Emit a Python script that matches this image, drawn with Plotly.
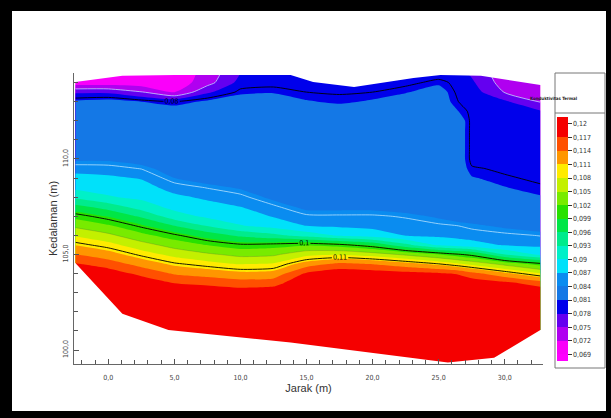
import plotly.graph_objects as go

# ---------------------------------------------------------------------------
# Thermal conductivity section: distance along the line vs. depth
# ---------------------------------------------------------------------------
distance_m = [-2.5, 0.0, 2.5, 5.0, 7.5, 10.0, 12.5, 15.0, 17.5, 20.0, 22.5,
              25.0, 26.5, 27.5, 30.0, 32.7]

depth_m = [114.5, 114.0, 113.5, 113.0, 112.5, 112.0, 111.5, 111.0, 110.5,
           110.0, 109.5, 109.0, 108.5, 108.0, 107.5, 107.0, 106.5, 106.0,
           105.5, 105.0, 104.5, 104.0, 103.5, 103.0, 102.5, 102.0, 101.5,
           101.0, 100.5, 100.0, 99.5, 99.0]

# one row per depth, one column per distance
conductivity = [
    [.0700, .0700, .0700, .0700, .0730, .0780, .0785, .0790, .0795, .0795, .0790, .0790, .0790, .0775, .0730, .0725],
    [.0700, .0700, .0700, .0700, .0738, .0790, .0793, .0795, .0795, .0795, .0795, .0805, .0795, .0785, .0735, .0730],
    [.0775, .0775, .0752, .0718, .0775, .0805, .0808, .0800, .0798, .0800, .0808, .0822, .0795, .0795, .0748, .0737],
    [.0815, .0820, .0810, .0800, .0815, .0825, .0825, .0812, .0806, .0813, .0825, .0825, .0800, .0795, .0785, .0748],
    [.0825, .0825, .0825, .0825, .0825, .0825, .0825, .0825, .0825, .0825, .0825, .0825, .0810, .0795, .0795, .0783],
    [.0825, .0825, .0825, .0825, .0825, .0825, .0825, .0825, .0825, .0825, .0825, .0825, .0825, .0795, .0795, .0795],
    [.0825, .0825, .0825, .0825, .0825, .0825, .0825, .0825, .0825, .0825, .0825, .0825, .0825, .0795, .0795, .0795],
    [.0825, .0825, .0825, .0825, .0825, .0825, .0825, .0825, .0825, .0825, .0825, .0825, .0825, .0795, .0795, .0795],
    [.0825, .0825, .0825, .0825, .0825, .0825, .0825, .0825, .0825, .0825, .0825, .0825, .0825, .0795, .0795, .0795],
    [.0835, .0835, .0825, .0825, .0825, .0825, .0825, .0825, .0825, .0825, .0825, .0825, .0825, .0795, .0795, .0795],
    [.0860, .0858, .0849, .0825, .0825, .0825, .0825, .0825, .0825, .0825, .0825, .0825, .0825, .0802, .0797, .0797],
    [.0879, .0875, .0868, .0840, .0825, .0825, .0825, .0825, .0825, .0825, .0825, .0825, .0825, .0812, .0802, .0797],
    [.0893, .0888, .0881, .0860, .0849, .0837, .0825, .0825, .0825, .0825, .0825, .0825, .0825, .0825, .0811, .0802],
    [.0923, .0903, .0893, .0876, .0865, .0856, .0833, .0825, .0825, .0825, .0825, .0825, .0825, .0825, .0825, .0812],
    [.0970, .0946, .0916, .0890, .0880, .0870, .0854, .0832, .0832, .0832, .0825, .0825, .0825, .0825, .0825, .0825],
    [.1011, .0988, .0955, .0914, .0894, .0885, .0868, .0854, .0853, .0853, .0848, .0836, .0826, .0825, .0825, .0825],
    [.1044, .1024, .0995, .0960, .0929, .0902, .0889, .0870, .0866, .0863, .0859, .0854, .0850, .0845, .0835, .0825],
    [.1076, .1057, .1029, .1005, .0977, .0954, .0939, .0918, .0896, .0885, .0869, .0865, .0862, .0860, .0855, .0849],
    [.1109, .1090, .1062, .1038, .1019, .1004, .1008, .1017, .1007, .0985, .0938, .0895, .0885, .0880, .0868, .0864],
    [.1141, .1123, .1095, .1071, .1055, .1042, .1045, .1071, .1078, .1066, .1045, .1021, .1004, .0992, .0931, .0894],
    [.1173, .1156, .1129, .1104, .1091, .1079, .1083, .1125, .1148, .1139, .1122, .1102, .1085, .1073, .1041, .1008],
    [.1195, .1187, .1162, .1137, .1127, .1117, .1121, .1175, .1190, .1187, .1181, .1175, .1167, .1151, .1118, .1082],
    [.1195, .1195, .1191, .1170, .1163, .1155, .1159, .1195, .1195, .1195, .1195, .1195, .1195, .1191, .1179, .1156],
    [.1195, .1195, .1195, .1195, .1193, .1187, .1190, .1195, .1195, .1195, .1195, .1195, .1195, .1195, .1195, .1193],
    [.1195, .1195, .1195, .1195, .1195, .1195, .1195, .1195, .1195, .1195, .1195, .1195, .1195, .1195, .1195, .1195],
    [.1195, .1195, .1195, .1195, .1195, .1195, .1195, .1195, .1195, .1195, .1195, .1195, .1195, .1195, .1195, .1195],
    [.1195, .1195, .1195, .1195, .1195, .1195, .1195, .1195, .1195, .1195, .1195, .1195, .1195, .1195, .1195, .1195],
    [.1195, .1195, .1195, .1195, .1195, .1195, .1195, .1195, .1195, .1195, .1195, .1195, .1195, .1195, .1195, .1195],
    [.1195, .1195, .1195, .1195, .1195, .1195, .1195, .1195, .1195, .1195, .1195, .1195, .1195, .1195, .1195, .1195],
    [.1195, .1195, .1195, .1195, .1195, .1195, .1195, .1195, .1195, .1195, .1195, .1195, .1195, .1195, .1195, .1195],
    [.1195, .1195, .1195, .1195, .1195, .1195, .1195, .1195, .1195, .1195, .1195, .1195, .1195, .1195, .1195, .1195],
    [.1195, .1195, .1195, .1195, .1195, .1195, .1195, .1195, .1195, .1195, .1195, .1195, .1195, .1195, .1195, .1195],
]

# outline of the surveyed section (ground surface and lower limit)
top_edge_x = [-2.5, 1.06, 5.0, 13.8, 15.5, 18.6, 20.6, 23.1, 25.15, 28.2, 32.7]
top_edge_y = [114.03, 114.35, 114.40, 114.40, 114.03, 113.77, 113.98, 114.24, 114.40, 114.35, 113.87]
bottom_edge_x = [-2.5, 1.06, 4.55, 13.8, 25.7, 29.2, 32.7]
bottom_edge_y = [104.55, 101.9, 101.05, 100.4, 99.35, 99.6, 101.05]

# fill levels and their labels
level_values = [0.069, 0.072, 0.075, 0.078, 0.081, 0.084, 0.087, 0.090, 0.093,
                0.096, 0.099, 0.102, 0.105, 0.108, 0.111, 0.114, 0.117, 0.120]
level_labels = ["0,069", "0,072", "0,075", "0,078", "0,081", "0,084", "0,087",
                "0,09", "0,093", "0,096", "0,099", "0,102", "0,105", "0,108",
                "0,111", "0,114", "0,117", "0,12"]

# colour of each region: below range, the 17 bands, above range
band_colors = ["#ff00ff", "#fa00fa", "#b000f0", "#6400f0", "#0000eb",
               "#1478e6", "#0a8cf0", "#00e1fa", "#00f0c8", "#00eb8c",
               "#00e646", "#28e100", "#78eb00", "#c3f000", "#ffeb00",
               "#ff9600", "#ff5000", "#f50000", "#f50000"]

black_levels = [0.08, 0.10, 0.11]
pale_levels = [0.075, 0.085]
grey_levels = [0.105]

# ---------------------------------------------------------------------------
W, H = 611, 418
ML, MR, MT, MB = 74, 68, 73, 54
PW, PH = W - ML - MR, H - MT - MB


def px(x):
    return (x - ML) / PW


def py(y):
    return (H - MB - y) / PH


colorscale = [[i / (len(band_colors) - 1), c] for i, c in enumerate(band_colors)]
narrow = "Liberation Sans Narrow, DejaVu Sans Condensed, Liberation Sans, Arial"
sans = "Liberation Sans, Arial"

fig = go.Figure()

fig.add_trace(go.Contour(
    x=distance_m, y=depth_m, z=conductivity,
    autocontour=False,
    contours=dict(start=level_values[0], end=level_values[-1],
                  size=level_values[1] - level_values[0],
                  coloring="fill", showlines=False),
    colorscale=colorscale,
    line=dict(width=0, smoothing=0.6),
    hoverinfo="skip",
    colorbar=dict(
        thickness=11, thicknessmode="pixels",
        lenmode="pixels", len=361 - 117,
        yref="paper", y=py(117), yanchor="top",
        xref="paper", x=px(557), xanchor="left",
        xpad=0, ypad=0,
        tickmode="array", tickvals=level_values, ticktext=level_labels,
        ticks="outside", ticklen=4, tickwidth=1, tickcolor="#333",
        tickfont=dict(size=7, family=narrow, color="#333"),
        outlinewidth=0,
    ),
))


def line_layer(levels, color, width, labels):
    for lev in levels:
        fig.add_trace(go.Contour(
            x=distance_m, y=depth_m, z=conductivity,
            autocontour=False,
            contours=dict(start=lev, end=lev, size=0.01, coloring="none",
                          showlabels=labels,
                          labelfont=dict(size=7, color="black", family=narrow),
                          labelformat=".2~f"),
            line=dict(color=color, width=width, smoothing=0.6),
            showscale=False, hoverinfo="skip",
        ))


line_layer(pale_levels, "rgba(200,235,255,0.9)", 0.8, False)
line_layer(grey_levels, "rgba(70,70,70,0.35)", 0.6, False)

# blank out everything above the ground surface and below the lower limit
fig.add_trace(go.Scatter(
    x=[-3.0] + top_edge_x + [33.5, 33.5, -3.0],
    y=[top_edge_y[0]] + top_edge_y + [top_edge_y[-1], 116.0, 116.0],
    mode="lines", fill="toself", fillcolor="white",
    line=dict(width=0), hoverinfo="skip", showlegend=False,
))
fig.add_trace(go.Scatter(
    x=[-3.0] + bottom_edge_x + [33.5, 33.5, -3.0],
    y=[bottom_edge_y[0]] + bottom_edge_y + [bottom_edge_y[-1], 98.0, 98.0],
    mode="lines", fill="toself", fillcolor="white",
    line=dict(width=0), hoverinfo="skip", showlegend=False,
))

line_layer(black_levels, "black", 0.9, True)

axis_common = dict(
    showgrid=False, zeroline=False, showline=True, linecolor="#666", linewidth=1,
    ticks="inside", ticklen=5, tickwidth=1, tickcolor="#555",
    tickformat=".1f", tickfont=dict(size=7, family=narrow, color="#444"),
)

fig.update_layout(
    width=W, height=H,
    margin=dict(l=ML, r=MR, t=MT, b=MB, autoexpand=False),
    paper_bgcolor="black", plot_bgcolor="rgba(0,0,0,0)",
    separators=",.", showlegend=False,
    xaxis=dict(
        range=[-2.6, 32.9], tickmode="array", tickvals=[0, 5, 10, 15, 20, 25, 30],
        minor=dict(tickmode="linear", tick0=0, dtick=1, ticks="inside",
                   ticklen=4, tickcolor="#555"),
        ticklabelstandoff=7,
        title=dict(text="Jarak (m)", font=dict(size=11, family=sans, color="#333"),
                   standoff=2),
        **axis_common,
    ),
    yaxis=dict(
        range=[99.27, 114.5], tickmode="array", tickvals=[100, 105, 110],
        tickangle=-90,
        minor=dict(tickmode="linear", tick0=100, dtick=1, ticks="inside",
                   ticklen=4, tickcolor="#555"),
        ticklabelstandoff=2,
        title=dict(text="Kedalaman (m)", font=dict(size=11, family=sans, color="#333"),
                   standoff=2),
        **axis_common,
    ),
    shapes=[
        # white sheet inside the black frame
        dict(type="rect", xref="paper", yref="paper",
             x0=px(12), x1=px(606), y0=py(411), y1=py(11),
             fillcolor="white", line=dict(width=0), layer="below"),
        # legend box and its title divider
        dict(type="rect", xref="paper", yref="paper",
             x0=px(555), x1=px(605), y0=py(368), y1=py(73),
             line=dict(color="#777", width=1), layer="above"),
        dict(type="line", xref="paper", yref="paper",
             x0=px(555), x1=px(605), y0=py(113), y1=py(113),
             line=dict(color="#777", width=1), layer="above"),
    ],
    annotations=[
        dict(text="<b>Konduktivitas Termal</b>", xref="paper", yref="paper",
             x=px(580), y=py(94), showarrow=False,
             font=dict(size=4.4, family=narrow, color="#222")),
    ],
)

fig.write_html("out.html")
